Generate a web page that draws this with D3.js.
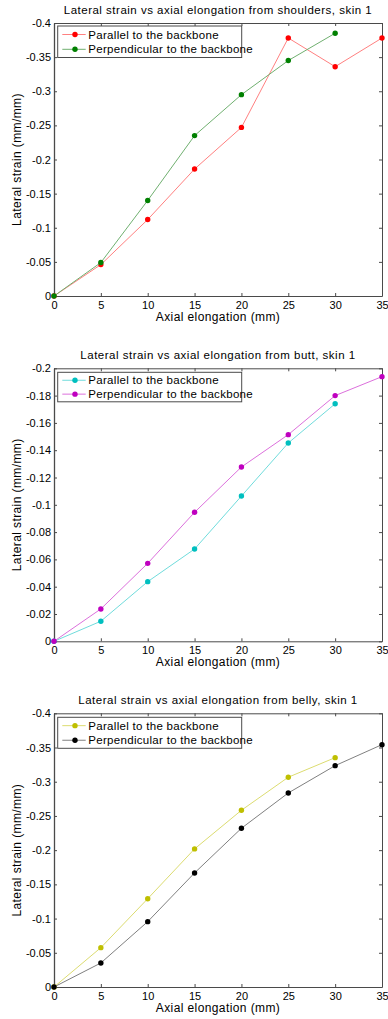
<!DOCTYPE html>
<html>
<head>
<meta charset="utf-8">
<script src="https://cdn.jsdelivr.net/npm/d3@7"></script>
<style>
  html, body { margin: 0; padding: 0; background: #fff; }
  svg { display: block; }
  text { font-family: "Liberation Sans", Arial, sans-serif; fill: #000; }
</style>
</head>
<body>
<svg id="chart" width="388" height="1019"></svg>
<script>
// Axial elongation steps (mm)
const elongation = [0, 5, 10, 15, 20, 25, 30, 35];

// Lateral strain (mm/mm) per skin region and direction
const shouldersParallel      = [0, -0.046, -0.112, -0.186, -0.247, -0.378, -0.336, -0.378];
const shouldersPerpendicular = [0, -0.049, -0.140, -0.235, -0.295, -0.345, -0.385];
const buttParallel           = [0, -0.0147, -0.0437, -0.0676, -0.1064, -0.1453, -0.174];
const buttPerpendicular      = [0, -0.0237, -0.0571, -0.0945, -0.1277, -0.1514, -0.180, -0.1939];
const bellyParallel          = [0, -0.0575, -0.129, -0.2018, -0.2583, -0.3066, -0.3352];
const bellyPerpendicular     = [0, -0.0351, -0.0955, -0.1667, -0.232, -0.2836, -0.3235, -0.3542];

// Tick values
const xTicks = [0, 5, 10, 15, 20, 25, 30, 35];
const yTicksWide = [0, -0.05, -0.1, -0.15, -0.2, -0.25, -0.3, -0.35, -0.4];
const yTicksNarrow = [0, -0.02, -0.04, -0.06, -0.08, -0.1, -0.12, -0.14, -0.16, -0.18, -0.2];

const seriesNames = ["Parallel to the backbone", "Perpendicular to the backbone"];
const titles = [
  "Lateral strain vs axial elongation from shoulders, skin 1",
  "Lateral strain vs axial elongation from butt, skin 1",
  "Lateral strain vs axial elongation from belly, skin 1"
];
const xLabel = "Axial elongation (mm)";
const yLabel = "Lateral strain (mm/mm)";

const panels = [
  { title: titles[0], top: 23, bottom: 296, yMax: -0.4, yTicks: yTicksWide,
    series: [shouldersParallel, shouldersPerpendicular],
    colors: ["#ff0000", "#008000"], lineColors: ["#ff8080", "#70b070"],
    legend: { top: 26, h: 31.5 } },
  { title: titles[1], top: 368.3, bottom: 641.3, yMax: -0.2, yTicks: yTicksNarrow,
    series: [buttParallel, buttPerpendicular],
    colors: ["#00bfbf", "#bf00bf"], lineColors: ["#70dcdc", "#dc70dc"],
    legend: { top: 372.3, h: 29.5 } },
  { title: titles[2], top: 713.3, bottom: 987, yMax: -0.4, yTicks: yTicksWide,
    series: [bellyParallel, bellyPerpendicular],
    colors: ["#bfbf00", "#000000"], lineColors: ["#dcdc70", "#808080"],
    legend: { top: 717.3, h: 31 } }
];

const svg = d3.select("#chart");
const left = 54, right = 382;
const axisColor = "#4a4a4a";
const tickLen = 3;

panels.forEach(p => {
  const g = svg.append("g");
  const x = d3.scaleLinear().domain([0, 35]).range([left, right]);
  const y = d3.scaleLinear().domain([0, p.yMax]).range([p.bottom, p.top]);

  // Bottom axis with tick labels, ticks pointing inward
  g.append("g")
    .attr("transform", `translate(0,${p.bottom})`)
    .call(d3.axisBottom(x).tickValues(xTicks).tickSizeInner(-tickLen).tickSizeOuter(0).tickPadding(5)
      .tickFormat(d3.format("d")))
    .call(a => {
      a.select(".domain").attr("stroke", axisColor);
      a.selectAll(".tick line").attr("stroke", axisColor);
      a.selectAll(".tick text").attr("font-size", 11).attr("font-family", "Liberation Sans, Arial, sans-serif").attr("fill", "#000");
    });

  // Top axis: ticks only
  g.append("g")
    .attr("transform", `translate(0,${p.top})`)
    .call(d3.axisTop(x).tickValues(xTicks).tickSizeInner(-tickLen).tickSizeOuter(0).tickFormat(""))
    .call(a => {
      a.select(".domain").attr("stroke", axisColor);
      a.selectAll(".tick line").attr("stroke", axisColor);
    });

  // Left axis with tick labels
  g.append("g")
    .attr("transform", `translate(${left},0)`)
    .call(d3.axisLeft(y).tickValues(p.yTicks).tickSizeInner(-tickLen).tickSizeOuter(0).tickPadding(3)
      .tickFormat(d => d === 0 ? "0" : String(+d.toFixed(2))))
    .call(a => {
      a.select(".domain").attr("stroke", axisColor).attr("stroke-width", 1.3);
      a.selectAll(".tick line").attr("stroke", axisColor);
      a.selectAll(".tick text").attr("font-size", 11).attr("font-family", "Liberation Sans, Arial, sans-serif").attr("fill", "#000");
    });

  // Right axis: ticks only
  g.append("g")
    .attr("transform", `translate(${right},0)`)
    .call(d3.axisRight(y).tickValues(p.yTicks).tickSizeInner(-tickLen).tickSizeOuter(0).tickFormat(""))
    .call(a => {
      a.select(".domain").attr("stroke", axisColor);
      a.selectAll(".tick line").attr("stroke", axisColor);
    });

  // Title
  g.append("text")
    .attr("x", (left + right) / 2).attr("y", p.top - 9)
    .attr("text-anchor", "middle").attr("font-size", 11.5)
    .attr("letter-spacing", 0.5)
    .text(p.title);

  // Axis labels
  g.append("text")
    .attr("x", (left + right) / 2).attr("y", p.bottom + 25)
    .attr("text-anchor", "middle").attr("font-size", 12).attr("letter-spacing", 0.4)
    .text(xLabel);
  g.append("text")
    .attr("transform", `translate(21,${(p.top + p.bottom) / 2}) rotate(-90)`)
    .attr("text-anchor", "middle").attr("font-size", 12).attr("letter-spacing", 0.4)
    .text(yLabel);

  // Series lines and markers
  const line = d3.line().x((d, i) => x(elongation[i])).y(d => y(d));
  p.series.forEach((vals, si) => {
    g.append("path")
      .attr("d", line(vals))
      .attr("fill", "none")
      .attr("stroke", p.lineColors[si])
      .attr("stroke-width", 1);
    g.selectAll(null)
      .data(vals)
      .join("circle")
      .attr("cx", (d, i) => x(elongation[i]))
      .attr("cy", d => y(d))
      .attr("r", 2.7)
      .attr("fill", p.colors[si]);
  });

  // Legend
  const lg = g.append("g");
  const lx = 57.7, lw = 184;
  lg.append("rect")
    .attr("x", lx).attr("y", p.legend.top)
    .attr("width", lw).attr("height", p.legend.h)
    .attr("fill", "#fff").attr("stroke", axisColor).attr("stroke-width", 1);
  seriesNames.forEach((name, si) => {
    const cy = p.legend.top + p.legend.h * (si === 0 ? 0.27 : 0.74);
    lg.append("line")
      .attr("x1", lx + 4.6).attr("x2", lx + 28)
      .attr("y1", cy).attr("y2", cy)
      .attr("stroke", p.lineColors[si]).attr("stroke-width", 1);
    lg.append("circle")
      .attr("cx", lx + 17.3).attr("cy", cy).attr("r", 2.7)
      .attr("fill", p.colors[si]);
    lg.append("text")
      .attr("x", lx + 30.6).attr("y", cy + 4)
      .attr("font-size", 11.5).attr("letter-spacing", 0.3)
      .text(name);
  });
});
</script>
</body>
</html>
